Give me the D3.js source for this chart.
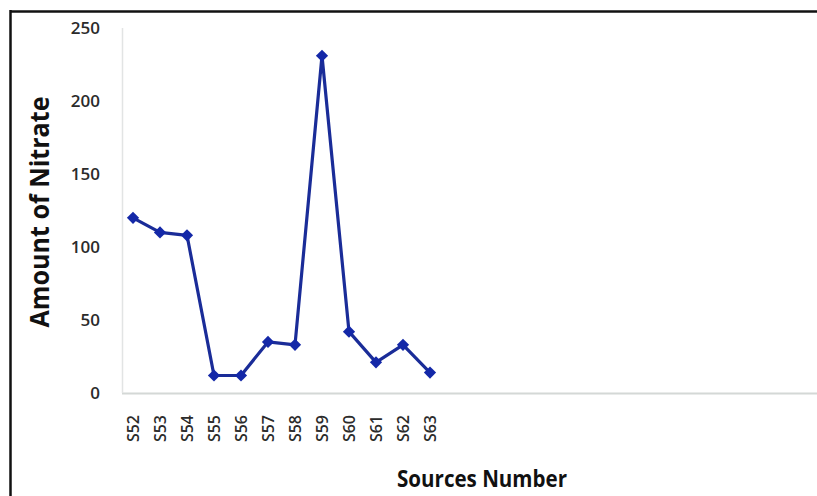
<!DOCTYPE html>
<html>
<head>
<meta charset="utf-8">
<script src="https://cdn.jsdelivr.net/npm/d3@7"></script>
<style>
  body { margin: 0; background: #fff; }
  svg { display: block; }
</style>
</head>
<body>
<svg id="container"></svg>
<script>
// data
const sources = ["S52", "S53", "S54", "S55", "S56", "S57", "S58", "S59", "S60", "S61", "S62", "S63"];
const nitrate = [120, 110, 108, 12, 12, 35, 33, 231, 42, 21, 33, 14];
const yTicks = [0, 50, 100, 150, 200, 250];

const W = 817, H = 496;
const margin = {top: 28, right: 0, bottom: 103, left: 122},
  h = H - margin.top - margin.bottom;
const step = 27;

var svg = d3.select("#container")
  .attr("width", W)
  .attr("height", H);

// outer frame (top + left only visible)
svg.append("line")
  .attr("x1", 10).attr("x2", W).attr("y1", 11.5).attr("y2", 11.5)
  .attr("stroke", "#111").attr("stroke-width", 2.5);
svg.append("line")
  .attr("x1", 10.5).attr("x2", 10.5).attr("y1", 10).attr("y2", H)
  .attr("stroke", "#111").attr("stroke-width", 2.5);

var g = svg.append("g")
  .attr("transform", "translate(" + margin.left + "," + margin.top + ")");

var xScale = d3.scalePoint().domain(sources)
  .range([0, step * (sources.length - 1)])
  .padding(0);
var xOff = 11;

var yScale = d3.scaleLinear().domain([0, 250]).range([h, 0]);

// axis lines
g.append("line")
  .attr("x1", 0).attr("x2", W - margin.left).attr("y1", h + 0.5).attr("y2", h + 0.5)
  .attr("stroke", "#d4d8d6").attr("stroke-width", 2);
g.append("line")
  .attr("x1", 0.5).attr("x2", 0.5).attr("y1", 0).attr("y2", h)
  .attr("stroke", "#e2e4e4").attr("stroke-width", 1.5);

// y axis labels
var yAxis = d3.axisLeft(yScale).tickValues(yTicks).tickSize(0).tickPadding(22);
var gY = g.append("g").call(yAxis);
gY.select(".domain").remove();
gY.selectAll(".tick text")
  .attr("font-family", "'Open Sans', sans-serif")
  .attr("font-size", 17)
  .attr("font-weight", 600)
  .attr("fill", "#2b2b2b");

// x axis labels rotated
var xAxis = d3.axisBottom(xScale).tickSize(0).tickPadding(0);
var gX = g.append("g")
  .attr("transform", "translate(" + xOff + "," + h + ")")
  .call(xAxis);
gX.select(".domain").remove();
gX.selectAll(".tick text")
  .attr("font-family", "'Open Sans', sans-serif")
  .attr("font-size", 16)
  .attr("font-weight", 600)
  .attr("fill", "#2b2b2b")
  .attr("text-anchor", "end")
  .attr("transform", "rotate(-90)")
  .attr("x", -22)
  .attr("y", 0)
  .attr("dy", "0.35em");

// line
var line = d3.line()
  .x((d, i) => xScale(sources[i]) + xOff)
  .y(d => yScale(d));

g.append("path")
  .datum(nitrate)
  .attr("fill", "none")
  .attr("stroke", "#1a2c98")
  .attr("stroke-width", 3.2)
  .attr("stroke-linejoin", "round")
  .attr("d", line);

// diamond markers
g.selectAll(".marker")
  .data(nitrate)
  .enter()
  .append("path")
  .attr("class", "marker")
  .attr("d", d3.symbol().type(d3.symbolDiamond2).size(95))
  .attr("transform", (d, i) => "translate(" + (xScale(sources[i]) + xOff) + "," + yScale(d) + ")")
  .attr("fill", "#1428a8");

// titles
svg.append("text")
  .attr("transform", "translate(49,212) rotate(-90)")
  .attr("text-anchor", "middle")
  .attr("font-family", "'Open Sans', sans-serif")
  .attr("font-weight", "bold")
  .attr("font-size", 27)
  .attr("textLength", 231)
  .attr("lengthAdjust", "spacingAndGlyphs")
  .attr("fill", "#111")
  .text("Amount of Nitrate");

svg.append("text")
  .attr("x", 482)
  .attr("y", 487)
  .attr("text-anchor", "middle")
  .attr("font-family", "'Open Sans', sans-serif")
  .attr("font-weight", "bold")
  .attr("font-size", 23)
  .attr("textLength", 170)
  .attr("lengthAdjust", "spacingAndGlyphs")
  .attr("fill", "#111")
  .text("Sources Number");
</script>
</body>
</html>
